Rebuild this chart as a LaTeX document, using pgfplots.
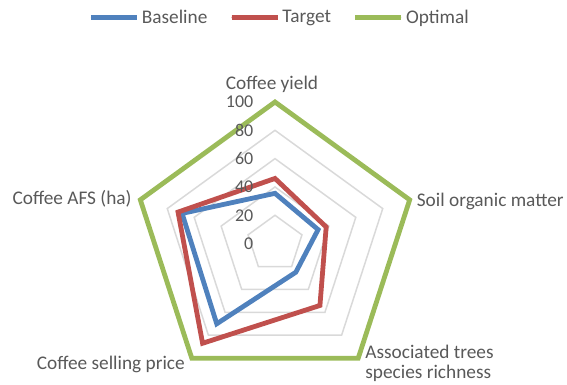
\documentclass[border=0pt]{standalone}
\usepackage{fontspec}
\setmainfont{Carlito}
\usepackage{pgfplots}
\pgfplotsset{compat=1.18}
\usepgfplotslibrary{polar}
\definecolor{cBlue}{HTML}{4F81BD}
\definecolor{cRed}{HTML}{C0504D}
\definecolor{cGreen}{HTML}{9BBB59}
\definecolor{cGrid}{HTML}{D9D9D9}
\definecolor{cText}{HTML}{595959}
\begin{document}
\begin{tikzpicture}[x=1pt,y=1pt]
\useasboundingbox (0,0) rectangle (567,385);
\begin{polaraxis}[
  at={(275pt,141.4pt)}, anchor=center,
  width=283.2pt, height=283.2pt, scale only axis,
  xmin=0, xmax=360, ymin=0, ymax=100,
  hide axis, clip=false,
  legend columns=3,
  legend style={at={(0.513,1.299)}, anchor=center, draw=none, fill=none,
    inner sep=0pt, font=\fontsize{19.3}{23}\selectfont, text=cText,
    nodes={inner sep=0pt, anchor=west},
    /tikz/every odd column/.style={column sep=2.5pt},
    /tikz/every even column/.style={column sep=21.8pt}},
  legend image code/.code={\path (0pt,0pt) -- (46pt,0pt);
    \draw[line width=5pt, line cap=round] (2.5pt,0pt) -- (43.5pt,0pt);},
  every axis plot/.append style={line join=miter},
]
% grid pentagons
\addplot[cGrid, line width=1.5pt, forget plot] coordinates {(90,20)(18,20)(306,20)(234,20)(162,20)} -- cycle;
\addplot[cGrid, line width=1.5pt, forget plot] coordinates {(90,40)(18,40)(306,40)(234,40)(162,40)} -- cycle;
\addplot[cGrid, line width=1.5pt, forget plot] coordinates {(90,60)(18,60)(306,60)(234,60)(162,60)} -- cycle;
\addplot[cGrid, line width=1.5pt, forget plot] coordinates {(90,80)(18,80)(306,80)(234,80)(162,80)} -- cycle;
% data: (angle, value)  Coffee yield 90, Soil organic matter 18, Associated trees 306, Coffee selling price 234, Coffee AFS 162
\addplot[cBlue, line width=4.8pt] coordinates {(90,35.5)(18,32)(306,25)(234,70)(162,69)} -- cycle;
\addlegendentry{Baseline}
\addplot[cRed, line width=4.8pt] coordinates {(90,46)(18,38)(306,54)(234,87)(162,72)} -- cycle;
\addlegendentry{Target}
\addplot[cGreen, line width=4.8pt] coordinates {(90,100)(18,100)(306,100)(234,100)(162,100)} -- cycle;
\addlegendentry{Optimal}
% tick labels
\begin{scope}[every node/.style={anchor=east, inner sep=0pt, text=cText, font=\fontsize{18}{21}\selectfont, xshift=-21.5pt}]
\node at (axis cs:90,0) {0};
\node at (axis cs:90,20) {20};
\node at (axis cs:90,40) {40};
\node at (axis cs:90,60) {60};
\node at (axis cs:90,80) {80};
\node at (axis cs:90,100) {100};
\end{scope}
% category labels
\begin{scope}[every node/.style={inner sep=0pt, text=cText, font=\fontsize{19.3}{23}\selectfont}]
\node[anchor=base, xshift=-3pt, yshift=12.7pt] at (axis cs:90,100) {Coffee yield};
\node[anchor=base west, xshift=7pt, yshift=-6.9pt] at (axis cs:18,100) {Soil organic matter};
\node[anchor=base west, xshift=7pt, yshift=0pt] at (axis cs:306,100) {Associated trees};
\node[anchor=base west, xshift=7pt, yshift=-20pt] at (axis cs:306,100) {species richness};
\node[anchor=base east, xshift=-6.8pt, yshift=-11.8pt] at (axis cs:234,100) {Coffee selling price};
\node[anchor=base east, xshift=-8.6pt, yshift=-4.5pt] at (axis cs:162,100) {Coffee AFS (ha)};
\end{scope}
\end{polaraxis}
\end{tikzpicture}
\end{document}
